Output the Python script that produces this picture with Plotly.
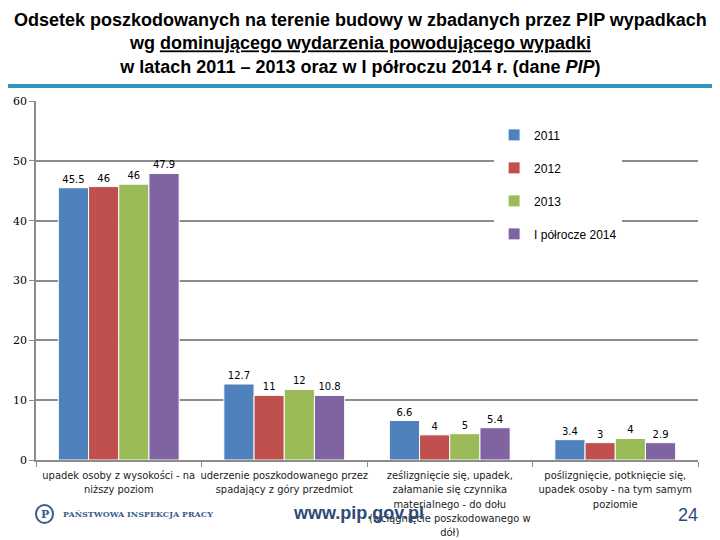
import plotly.graph_objects as go

categories = [
    "upadek osoby z wysokości - na<br>niższy poziom",
    "uderzenie poszkodowanego przez<br>spadający z góry przedmiot",
    "ześlizgnięcie się, upadek,<br>załamanie się czynnika<br>materialnego - do dołu<br>(wciągnięcie poszkodowanego w<br>dół)",
    "poślizgnięcie, potknięcie się,<br>upadek osoby - na tym samym<br>poziomie",
]
series_names = ["2011", "2012", "2013", "I półrocze 2014"]
values_2011 = [45.5, 12.7, 6.6, 3.4]
values_2012 = [45.7, 10.8, 4.2, 2.9]
values_2013 = [46.1, 11.8, 4.4, 3.6]
values_2014 = [47.9, 10.8, 5.4, 2.9]
labels_2011 = ["45.5", "12.7", "6.6", "3.4"]
labels_2012 = ["46", "11", "4", "3"]
labels_2013 = ["46", "12", "5", "4"]
labels_2014 = ["47.9", "10.8", "5.4", "2.9"]
colors = ["#4F81BD", "#C0504D", "#9BBB59", "#8064A2"]

all_values = [values_2011, values_2012, values_2013, values_2014]
all_labels = [labels_2011, labels_2012, labels_2013, labels_2014]

# page is shown with an 8px body margin, so the figure is offset by 8px
OFF = 8
W, H = 720 - OFF, 540 - OFF
PL, PR, PT, PB = 36, 698, 101, 460  # desired plot box in window pixels


def px(X):
    return (X - PL) / (PR - PL)


def py(Y):
    return (PB - Y) / (PB - PT)


fig = go.Figure()
for name, vals, labs, col in zip(series_names, all_values, all_labels, colors):
    fig.add_trace(go.Bar(
        x=categories, y=vals, name=name, text=labs,
        textposition="outside", cliponaxis=False,
        textfont=dict(family="DejaVu Sans", size=10, color="black"),
        marker=dict(color=col, line=dict(color="white", width=1)),
        legendgroup=name,
    ))

title = ("<b>Odsetek poszkodowanych na terenie budowy w zbadanych przez PIP wypadkach<br>"
         "wg <u>dominującego wydarzenia powodującego wypadki</u><br>"
         "w latach 2011 – 2013 oraz w I półroczu 2014 r. (dane <i>PIP</i>)</b>")

fig.update_layout(
    width=W, height=H,
    margin=dict(l=PL - OFF, r=W - (PR - OFF), t=PT - OFF, b=H - (PB - OFF), autoexpand=False),
    paper_bgcolor="white", plot_bgcolor="white",
    barmode="group", bargap=0.27, bargroupgap=0.0,
    showlegend=True,
    legend=dict(x=0.692, y=0.946, xanchor="left", yanchor="top",
                bgcolor="white", font=dict(family="Liberation Sans", size=12, color="black"),
                tracegroupgap=14, itemwidth=30),
    font=dict(family="Liberation Sans", color="black"),
    annotations=[
        dict(text=title, xref="paper", yref="paper", x=px(360), y=py(44),
             xanchor="center", yanchor="middle", showarrow=False,
             font=dict(family="Liberation Sans", size=18, color="black"),
             align="center"),
        dict(text="<b>PAŃSTWOWA INSPEKCJA PRACY</b>", xref="paper", yref="paper",
             x=px(61), y=py(514), xanchor="left", yanchor="middle",
             showarrow=False, font=dict(family="DejaVu Serif", size=8, color="#3A5C8C")),
        dict(text="<b>P</b>", xref="paper", yref="paper",
             x=px(44.5), y=py(514), xanchor="center", yanchor="middle",
             showarrow=False, font=dict(family="DejaVu Serif", size=11, color="#3A5C8C")),
        dict(text="<b>www.pip.gov.pl</b>", xref="paper", yref="paper",
             x=px(358), y=py(513), xanchor="center", yanchor="middle",
             showarrow=False, font=dict(family="Liberation Sans", size=18, color="#2C4A78")),
        dict(text="24", xref="paper", yref="paper",
             x=px(688), y=py(515), xanchor="center", yanchor="middle",
             showarrow=False, font=dict(family="Liberation Sans", size=18, color="#2C4A78")),
    ],
    shapes=[
        dict(type="line", xref="paper", yref="paper",
             x0=px(0), x1=px(720), y0=py(86), y1=py(86),
             line=dict(color="#2E95BD", width=4)),
        dict(type="circle", xref="paper", yref="paper",
             x0=px(36), x1=px(53), y0=py(523), y1=py(505),
             line=dict(color="#3A5C8C", width=2)),
    ],
)
fig.update_yaxes(range=[0, 60], dtick=10, showgrid=True, gridcolor="#8C8C8C", gridwidth=1.5,
                 showline=True, linecolor="#8C8C8C", linewidth=1.5,
                 ticks="outside", ticklen=5, tickcolor="#8C8C8C",
                 tickfont=dict(family="DejaVu Serif", size=11, color="black"),
                 zeroline=False, automargin=False)
fig.update_xaxes(showline=True, linecolor="#8C8C8C", linewidth=1.5,
                 ticks="outside", ticklen=5, tickcolor="#8C8C8C", tickson="boundaries",
                 tickfont=dict(family="DejaVu Sans Condensed", size=11, color="#222222"),
                 ticklabelstandoff=4,
                 tickangle=0, automargin=False)

fig.write_html("out.html")
